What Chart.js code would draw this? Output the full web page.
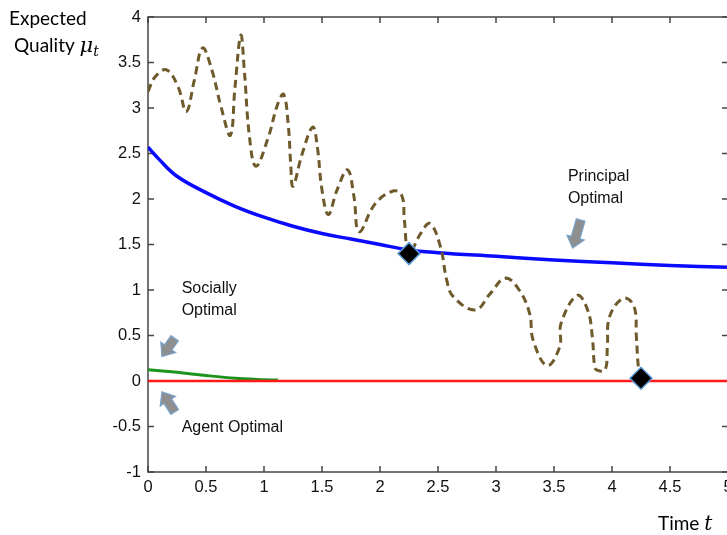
<!DOCTYPE html>
<html>
<head>
<meta charset="utf-8">
<script src="https://cdn.jsdelivr.net/npm/chart.js@4"></script>
<style>
  html, body { margin: 0; padding: 0; background: #fff; overflow: hidden; }
  #wrap { width: 760px; height: 535px; }
</style>
</head>
<body>
<div id="wrap"><canvas id="chart" width="760" height="535"></canvas></div>
<script>
// axis ticks
const xTicks = [0, 0.5, 1, 1.5, 2, 2.5, 3, 3.5, 4, 4.5, 5];
const yTicks = [-1, -0.5, 0, 0.5, 1, 1.5, 2, 2.5, 3, 3.5, 4];

// Principal optimal (blue)
const principalT = [0, 0.1, 0.25, 0.5, 0.75, 1, 1.25, 1.5, 1.75, 2, 2.25, 2.5, 3, 3.5, 4, 4.5, 5];
const principalQ = [2.57, 2.43, 2.25, 2.07, 1.92, 1.80, 1.70, 1.62, 1.56, 1.50, 1.44, 1.41, 1.37, 1.33, 1.30, 1.27, 1.25];

// Socially optimal (green)
const sociallyT = [0, 0.25, 0.5, 0.75, 1, 1.12];
const sociallyQ = [0.125, 0.095, 0.06, 0.03, 0.015, 0.01];

// Agent optimal (red)
const agentT = [0, 5];
const agentQ = [0, 0];

// wavy dashed path
const pathT = [0, 0.06, 0.16, 0.26, 0.33, 0.40, 0.47, 0.55, 0.63, 0.71, 0.75, 0.80, 0.83, 0.875, 0.93,
  1.03, 1.12, 1.17, 1.21, 1.23, 1.25, 1.33, 1.42, 1.46, 1.50, 1.555, 1.63, 1.72, 1.775, 1.82,
  1.96, 2.12, 2.19, 2.21, 2.25, 2.35, 2.43, 2.52, 2.575, 2.63, 2.82, 2.95, 3.08, 3.20, 3.29,
  3.32, 3.44, 3.55, 3.56, 3.70, 3.79, 3.83, 3.85, 3.87, 3.94, 3.96, 3.98, 4.10, 4.19, 4.21, 4.23, 4.25];
const pathQ = [3.18, 3.34, 3.42, 3.23, 2.96, 3.31, 3.66, 3.42, 3.01, 2.70, 3.23, 3.80, 3.42, 2.68, 2.36,
  2.65, 3.05, 3.15, 2.80, 2.39, 2.14, 2.50, 2.79, 2.57, 2.10, 1.83, 2.10, 2.32, 2.03, 1.64,
  1.95, 2.09, 2.03, 1.77, 1.40, 1.62, 1.73, 1.48, 1.11, 0.93, 0.78, 0.96, 1.13, 1.00, 0.74,
  0.45, 0.17, 0.38, 0.63, 0.94, 0.78, 0.49, 0.16, 0.12, 0.12, 0.38, 0.71, 0.91, 0.82, 0.49, 0.12, 0.03];

// diamond markers
const markT = [2.25, 4.25];
const markQ = [1.40, 0.03];

// annotations
const labelText = [['Principal', 'Optimal'], ['Socially', 'Optimal'], ['Agent Optimal']];
const labelT = [3.62, 0.29, 0.29];
const labelQ = [2.2, 0.97, -0.56];
const arrowFrom = [[3.73, 1.77], [0.23, 0.47], [0.23, -0.34]];
const arrowTo = [[3.66, 1.46], [0.12, 0.27], [0.12, -0.12]];

const pts = (ts, qs) => ts.map((t, i) => ({ x: t, y: qs[i] }));

const tickFont = { family: "'Liberation Sans Narrow', 'Liberation Sans', Arial, sans-serif", size: 16.5 };

function drawArrow(ctx, x1, y1, x2, y2) {
  const dx = x2 - x1, dy = y2 - y1;
  const len = Math.hypot(dx, dy);
  const ux = dx / len, uy = dy / len;
  const nx = -uy, ny = ux;
  const hl = 11, sw = 4.5, hw = 9;
  const bx = x2 - ux * hl, by = y2 - uy * hl;
  ctx.beginPath();
  ctx.moveTo(x1 + nx * sw, y1 + ny * sw);
  ctx.lineTo(bx + nx * sw, by + ny * sw);
  ctx.lineTo(bx + nx * hw, by + ny * hw);
  ctx.lineTo(x2, y2);
  ctx.lineTo(bx - nx * hw, by - ny * hw);
  ctx.lineTo(bx - nx * sw, by - ny * sw);
  ctx.lineTo(x1 - nx * sw, y1 - ny * sw);
  ctx.closePath();
  ctx.fillStyle = '#8e8e8e';
  ctx.fill();
  ctx.strokeStyle = '#7aa3cc';
  ctx.lineWidth = 1.2;
  ctx.stroke();
}

// box, inward ticks, labels, arrows
const decorations = {
  id: 'decorations',
  beforeDatasetsDraw(chart) {
    const { ctx, chartArea: a, scales: { x, y } } = chart;
    ctx.save();
    ctx.strokeStyle = '#444';
    ctx.lineWidth = 1.5;
    ctx.strokeRect(a.left, a.top, a.right - a.left, a.bottom - a.top);
    ctx.beginPath();
    xTicks.forEach(v => {
      const px = x.getPixelForValue(v);
      ctx.moveTo(px, a.bottom); ctx.lineTo(px, a.bottom - 6);
      ctx.moveTo(px, a.top); ctx.lineTo(px, a.top + 6);
    });
    yTicks.forEach(v => {
      const py = y.getPixelForValue(v);
      ctx.moveTo(a.left, py); ctx.lineTo(a.left + 6, py);
      ctx.moveTo(a.right, py); ctx.lineTo(a.right - 6, py);
    });
    ctx.stroke();
    ctx.restore();
  },
  afterDraw(chart) {
    const { ctx, scales: { x, y } } = chart;
    ctx.save();
    ctx.fillStyle = '#111';
    ctx.textBaseline = 'alphabetic';
    ctx.font = "16px 'Liberation Sans', Arial, sans-serif";
    labelText.forEach((lines, i) => {
      const px = x.getPixelForValue(labelT[i]);
      const py = y.getPixelForValue(labelQ[i]);
      lines.forEach((s, j) => ctx.fillText(s, px, py + j * 22));
    });
    arrowFrom.forEach((f, i) => {
      drawArrow(ctx, x.getPixelForValue(f[0]), y.getPixelForValue(f[1]),
        x.getPixelForValue(arrowTo[i][0]), y.getPixelForValue(arrowTo[i][1]));
    });

    // y axis title
    ctx.fillStyle = '#000';
    ctx.font = "19px Lato, 'Open Sans', sans-serif";
    ctx.fillText('Expected', 9, 25);
    ctx.fillText('Quality', 14, 52);
    let w = ctx.measureText('Quality ').width;
    ctx.font = "italic 21px 'DejaVu Serif', serif";
    ctx.fillText('\u03bc', 14 + w, 52);
    const mw = ctx.measureText('\u03bc').width;
    ctx.font = "italic 14px 'DejaVu Serif', serif";
    ctx.fillText('t', 14 + w + mw, 56);

    // x axis title
    ctx.font = "19px Lato, 'Open Sans', sans-serif";
    ctx.fillText('Time', 658, 530);
    w = ctx.measureText('Time ').width;
    ctx.font = "italic 20px 'DejaVu Serif', serif";
    ctx.fillText('t', 658 + w, 530);
    ctx.restore();
  }
};

new Chart(document.getElementById('chart').getContext('2d'), {
  type: 'scatter',
  data: {
    datasets: [
      {
        label: 'Marks',
        data: pts(markT, markQ),
        pointStyle: 'rectRot',
        pointRadius: 11,
        pointBackgroundColor: '#000',
        pointBorderColor: '#5b9bd5',
        pointBorderWidth: 1.5,
        showLine: false,
        order: 0
      },
      {
        label: 'Path',
        data: pts(pathT, pathQ),
        showLine: true,
        borderColor: '#6e5a2a',
        borderWidth: 3,
        borderDash: [8, 5],
        tension: 0.4,
        pointRadius: 0,
        order: 1
      },
      {
        label: 'Agent Optimal',
        data: pts(agentT, agentQ),
        showLine: true,
        borderColor: '#ff1a1a',
        borderWidth: 2.5,
        pointRadius: 0,
        order: 2
      },
      {
        label: 'Socially Optimal',
        data: pts(sociallyT, sociallyQ),
        showLine: true,
        borderColor: '#1c941c',
        borderWidth: 3,
        tension: 0.3,
        pointRadius: 0,
        order: 3
      },
      {
        label: 'Principal Optimal',
        data: pts(principalT, principalQ),
        showLine: true,
        borderColor: '#0a0aff',
        borderWidth: 3.5,
        tension: 0.4,
        pointRadius: 0,
        order: 4
      }
    ]
  },
  options: {
    responsive: false,
    animation: false,
    layout: { padding: { top: 17, right: 32, bottom: 0, left: 0 } },
    plugins: { legend: { display: false }, tooltip: { enabled: false } },
    scales: {
      x: {
        type: 'linear',
        min: 0,
        max: 5,
        afterFit: s => { s.height = 63; },
        afterBuildTicks: s => { s.ticks = xTicks.map(v => ({ value: v })); },
        grid: { display: false, drawTicks: false },
        border: { display: false },
        ticks: { color: '#111', font: tickFont, padding: 6, maxRotation: 0, autoSkip: false, callback: v => String(v) }
      },
      y: {
        type: 'linear',
        min: -1,
        max: 4,
        afterFit: s => { s.width = 148; },
        afterBuildTicks: s => { s.ticks = yTicks.map(v => ({ value: v })); },
        grid: { display: false, drawTicks: false },
        border: { display: false },
        ticks: { color: '#111', font: tickFont, padding: 7, autoSkip: false, callback: v => String(v) }
      }
    }
  },
  plugins: [decorations]
});
</script>
</body>
</html>
